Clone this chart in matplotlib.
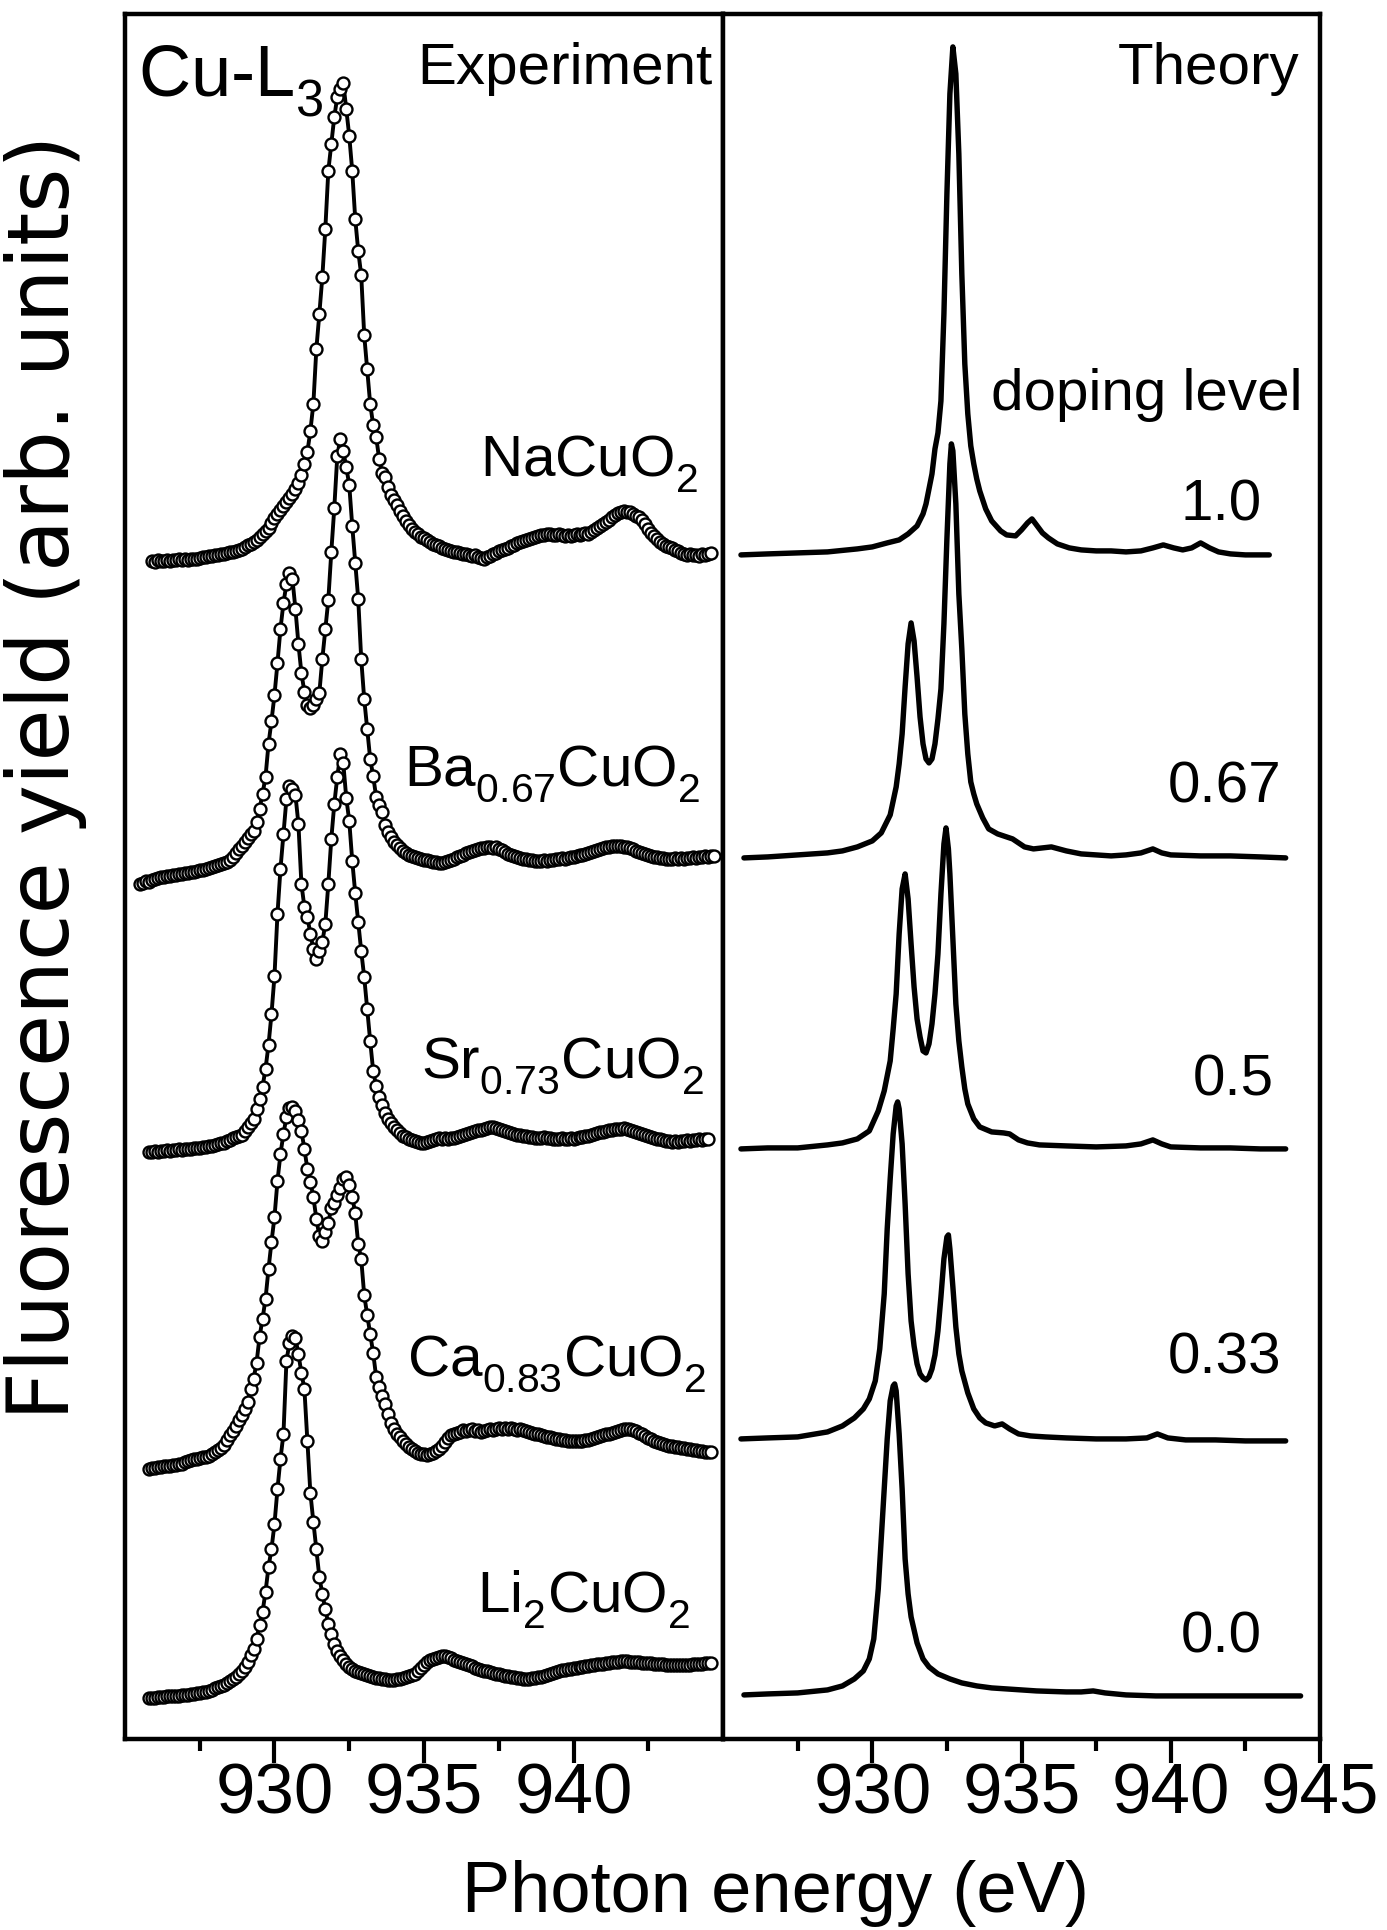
import numpy as np
import matplotlib
matplotlib.use("Agg")
import matplotlib.pyplot as plt

plt.rcParams['font.family'] = ['Liberation Sans', 'DejaVu Sans']
plt.rcParams['mathtext.fontset'] = 'custom'
plt.rcParams['mathtext.rm'] = 'Liberation Sans'
plt.rcParams['mathtext.it'] = 'Liberation Sans:italic'
plt.rcParams['mathtext.bf'] = 'Liberation Sans:bold'

# subindices un poco mas bajos, como en la figura original
try:
    from matplotlib import _mathtext
    _mathtext.FontConstantsBase.sub1 = 0.55
except Exception:
    pass

# ---- Experimento: espectros medidos, paso de 0.1 eV, desplazados verticalmente ----
paso = 0.1

na_e0 = 925.9
na = [
    11.78, 11.77, 11.79, 11.78, 11.78, 11.79, 11.78, 11.79, 11.79, 11.80,
    11.79, 11.80, 11.79, 11.80, 11.80, 11.80, 11.81, 11.82, 11.82, 11.83,
    11.83, 11.84, 11.84, 11.85, 11.85, 11.86, 11.87, 11.87, 11.88, 11.89,
    11.90, 11.92, 11.94, 11.95, 11.97, 11.99, 12.02, 12.05, 12.08, 12.11,
    12.16, 12.21, 12.25, 12.29, 12.33, 12.37, 12.41, 12.45, 12.50, 12.56,
    12.64, 12.75, 12.87, 13.08, 13.35, 13.90, 14.25, 14.62, 15.10, 15.68,
    15.95, 16.22, 16.42, 16.50, 16.56, 16.30, 16.03, 15.68, 15.20, 14.88,
    14.64, 14.04, 13.70, 13.35, 13.14, 13.02, 12.80, 12.66, 12.62, 12.52,
    12.44, 12.39, 12.34, 12.28, 12.23, 12.18, 12.14, 12.10, 12.07, 12.05,
    12.02, 12.01, 11.99, 11.97, 11.95, 11.94, 11.93, 11.91, 11.90, 11.89,
    11.88, 11.87, 11.87, 11.86, 11.85, 11.85, 11.84, 11.83, 11.84, 11.82,
    11.81, 11.80, 11.82, 11.83, 11.85, 11.86, 11.88, 11.89, 11.90, 11.91,
    11.93, 11.94, 11.96, 11.97, 11.98, 11.99, 12.00, 12.01, 12.02, 12.03,
    12.04, 12.04, 12.05, 12.05, 12.04, 12.04, 12.05, 12.04, 12.03, 12.04,
    12.03, 12.04, 12.05, 12.04, 12.05, 12.06, 12.05, 12.07, 12.09, 12.11,
    12.13, 12.15, 12.17, 12.19, 12.22, 12.24, 12.26, 12.27, 12.28, 12.27,
    12.27, 12.25, 12.23, 12.22, 12.19, 12.15, 12.10, 12.06, 12.03, 12.00,
    11.97, 11.95, 11.93, 11.92, 11.91, 11.89, 11.88, 11.86, 11.85, 11.84,
    11.85, 11.84, 11.84, 11.83, 11.85, 11.84, 11.85, 11.86,
]

ba_e0 = 925.5
ba = [
    8.55, 8.56, 8.58, 8.57, 8.59, 8.60, 8.61, 8.62, 8.62, 8.63,
    8.63, 8.64, 8.64, 8.65, 8.65, 8.66, 8.66, 8.67, 8.67, 8.68,
    8.69, 8.69, 8.70, 8.71, 8.72, 8.73, 8.74, 8.75, 8.76, 8.77,
    8.79, 8.82, 8.86, 8.90, 8.93, 8.97, 9.01, 9.05, 9.08, 9.17,
    9.30, 9.45, 9.62, 9.95, 10.18, 10.44, 10.76, 11.10, 11.36, 11.55,
    11.66, 11.60, 11.30, 10.95, 10.66, 10.47, 10.34, 10.31, 10.34, 10.40,
    10.46, 10.80, 11.10, 11.39, 11.87, 12.31, 12.83, 13.00, 12.88, 12.72,
    12.54, 12.13, 11.76, 11.40, 10.80, 10.40, 10.10, 9.80, 9.63, 9.42,
    9.34, 9.27, 9.14, 9.07, 9.02, 8.97, 8.94, 8.91, 8.88, 8.86,
    8.84, 8.83, 8.82, 8.81, 8.80, 8.79, 8.79, 8.78, 8.77, 8.77,
    8.76, 8.76, 8.77, 8.78, 8.79, 8.80, 8.82, 8.83, 8.84, 8.86,
    8.87, 8.88, 8.89, 8.90, 8.91, 8.91, 8.92, 8.92, 8.91, 8.92,
    8.90, 8.89, 8.87, 8.85, 8.84, 8.83, 8.82, 8.81, 8.80, 8.80,
    8.79, 8.79, 8.78, 8.78, 8.78, 8.79, 8.78, 8.79, 8.79, 8.80,
    8.80, 8.81, 8.80, 8.81, 8.82, 8.82, 8.83, 8.84, 8.84, 8.85,
    8.86, 8.87, 8.88, 8.89, 8.90, 8.91, 8.92, 8.92, 8.93, 8.93,
    8.93, 8.93, 8.92, 8.92, 8.91, 8.90, 8.88, 8.87, 8.86, 8.85,
    8.84, 8.83, 8.82, 8.82, 8.81, 8.81, 8.80, 8.80, 8.80, 8.81,
    8.80, 8.81, 8.80, 8.81, 8.81, 8.82, 8.81, 8.82, 8.82, 8.83,
    8.82, 8.83, 8.83,
]

sr_e0 = 925.8
sr = [
    5.87, 5.87, 5.88, 5.87, 5.88, 5.88, 5.89, 5.88, 5.89, 5.89,
    5.90, 5.89, 5.90, 5.90, 5.90, 5.91, 5.91, 5.91, 5.92, 5.92,
    5.93, 5.93, 5.94, 5.95, 5.96, 5.96, 5.98, 5.99, 6.01, 6.02,
    6.03, 6.04, 6.08, 6.12, 6.16, 6.20, 6.30, 6.40, 6.52, 6.70,
    6.94, 7.25, 7.63, 8.25, 8.70, 9.05, 9.40, 9.53, 9.50, 9.44,
    9.15, 8.55, 8.32, 8.22, 8.05, 7.90, 7.80, 7.88, 7.97, 8.15,
    8.55, 9.00, 9.35, 9.62, 9.85, 9.76, 9.41, 9.18, 8.78, 8.46,
    8.17, 7.88, 7.62, 7.30, 6.98, 6.68, 6.53, 6.42, 6.34, 6.26,
    6.20, 6.16, 6.12, 6.09, 6.06, 6.03, 6.02, 6.00, 5.99, 5.98,
    5.97, 5.96, 5.96, 5.97, 5.98, 5.99, 6.00, 6.01, 6.00, 6.01,
    6.00, 6.01, 6.01, 6.02, 6.03, 6.04, 6.05, 6.06, 6.07, 6.08,
    6.09, 6.09, 6.10, 6.11, 6.12, 6.12, 6.11, 6.10, 6.09, 6.08,
    6.07, 6.06, 6.05, 6.04, 6.04, 6.03, 6.03, 6.02, 6.02, 6.01,
    6.01, 6.01, 6.02, 6.01, 6.01, 6.00, 6.00, 6.00, 6.01, 6.00,
    6.00, 6.01, 6.00, 6.01, 6.02, 6.02, 6.03, 6.03, 6.04, 6.05,
    6.06, 6.07, 6.07, 6.08, 6.09, 6.09, 6.10, 6.10, 6.10, 6.11,
    6.10, 6.09, 6.08, 6.07, 6.06, 6.05, 6.04, 6.03, 6.02, 6.01,
    6.00, 6.00, 5.99, 5.98, 5.98, 5.97, 5.98, 5.97, 5.98, 5.98,
    5.99, 5.98, 5.99, 5.99, 6.00, 5.99, 6.00, 6.00,
]

ca_e0 = 925.8
ca = [
    2.70, 2.71, 2.71, 2.72, 2.72, 2.73, 2.73, 2.73, 2.74, 2.74,
    2.75, 2.75, 2.77, 2.78, 2.79, 2.80, 2.80, 2.81, 2.82, 2.82,
    2.83, 2.85, 2.87, 2.89, 2.91, 2.94, 2.99, 3.04, 3.08, 3.13,
    3.19, 3.24, 3.30, 3.37, 3.50, 3.60, 3.76, 4.02, 4.20, 4.40,
    4.70, 4.97, 5.22, 5.58, 5.85, 6.05, 6.22, 6.31, 6.32, 6.28,
    6.19, 6.08, 5.90, 5.70, 5.57, 5.42, 5.20, 5.03, 4.98, 5.07,
    5.16, 5.31, 5.36, 5.44, 5.51, 5.60, 5.62, 5.54, 5.42, 5.26,
    4.95, 4.80, 4.44, 4.24, 4.05, 3.86, 3.62, 3.52, 3.43, 3.35,
    3.25, 3.16, 3.10, 3.05, 3.02, 2.98, 2.95, 2.92, 2.90, 2.88,
    2.86, 2.85, 2.85, 2.84, 2.85, 2.86, 2.88, 2.90, 2.93, 2.97,
    3.01, 3.04, 3.05, 3.06, 3.07, 3.09, 3.08, 3.09, 3.10, 3.08,
    3.09, 3.07, 3.08, 3.09, 3.10, 3.09, 3.10, 3.11, 3.10, 3.11,
    3.10, 3.11, 3.10, 3.09, 3.10, 3.09, 3.08, 3.07, 3.06, 3.05,
    3.05, 3.04, 3.03, 3.02, 3.02, 3.01, 3.00, 3.00, 2.99, 2.99,
    2.98, 2.98, 2.98, 2.98, 2.98, 2.98, 2.99, 2.99, 3.00, 3.01,
    3.02, 3.03, 3.04, 3.05, 3.05, 3.06, 3.07, 3.08, 3.09, 3.10,
    3.10, 3.10, 3.09, 3.08, 3.06, 3.05, 3.03, 3.01, 3.00, 2.98,
    2.97, 2.96, 2.95, 2.94, 2.93, 2.93, 2.92, 2.92, 2.91, 2.91,
    2.90, 2.90, 2.89, 2.89, 2.88, 2.88, 2.87, 2.87, 2.87,
]

li_e0 = 925.8
li = [
    0.41, 0.41, 0.41, 0.42, 0.42, 0.42, 0.43, 0.43, 0.43, 0.43,
    0.43, 0.44, 0.44, 0.44, 0.45, 0.45, 0.46, 0.46, 0.47, 0.47,
    0.48, 0.49, 0.51, 0.52, 0.53, 0.54, 0.56, 0.58, 0.60, 0.62,
    0.65, 0.68, 0.72, 0.77, 0.84, 0.90, 1.00, 1.14, 1.27, 1.47,
    1.72, 1.90, 2.15, 2.50, 2.80, 3.05, 3.78, 3.96, 4.03, 4.01,
    3.85, 3.66, 3.50, 2.98, 2.46, 2.17, 1.90, 1.62, 1.45, 1.30,
    1.15, 1.05, 0.95, 0.88, 0.83, 0.79, 0.75, 0.72, 0.70, 0.68,
    0.67, 0.66, 0.65, 0.64, 0.63, 0.62, 0.61, 0.61, 0.60, 0.60,
    0.59, 0.59, 0.59, 0.60, 0.60, 0.61, 0.62, 0.63, 0.64, 0.65,
    0.68, 0.71, 0.74, 0.77, 0.79, 0.80, 0.81, 0.82, 0.83, 0.83,
    0.82, 0.81, 0.79, 0.78, 0.77, 0.76, 0.75, 0.74, 0.73, 0.71,
    0.70, 0.69, 0.68, 0.68, 0.67, 0.66, 0.65, 0.65, 0.64, 0.63,
    0.63, 0.62, 0.62, 0.61, 0.61, 0.60, 0.60, 0.60, 0.61, 0.61,
    0.62, 0.62, 0.63, 0.64, 0.65, 0.66, 0.67, 0.68, 0.69, 0.69,
    0.70, 0.70, 0.71, 0.71, 0.72, 0.72, 0.73, 0.73, 0.74, 0.74,
    0.75, 0.75, 0.75, 0.76, 0.76, 0.77, 0.77, 0.77, 0.78, 0.78,
    0.78, 0.77, 0.77, 0.77, 0.77, 0.76, 0.76, 0.76, 0.76, 0.75,
    0.75, 0.75, 0.75, 0.74, 0.74, 0.74, 0.74, 0.74, 0.74, 0.74,
    0.74, 0.74, 0.75, 0.75, 0.75, 0.75, 0.76, 0.76, 0.76,
]

muestras = [r'NaCuO$_2$', r'Ba$_{0.67}$CuO$_2$', r'Sr$_{0.73}$CuO$_2$',
            r'Ca$_{0.83}$CuO$_2$', r'Li$_2$CuO$_2$']

# ---- Teoria: curvas calculadas ----
t10_e = [925.6, 926.5, 927.5, 928.5, 929.5, 930.0, 930.5, 930.9, 931.2, 931.5,
         931.7, 931.8, 931.9, 932.0, 932.1, 932.2, 932.3, 932.4, 932.5, 932.6,
         932.7, 932.8, 932.9, 933.0, 933.1, 933.2, 933.3, 933.4, 933.5, 933.6,
         933.8, 934.0, 934.3, 934.5, 934.8, 935.0, 935.2, 935.35, 935.5, 935.7,
         935.9, 936.2, 936.6, 937.0, 937.5, 938.0, 938.5, 939.0, 939.4, 939.75,
         940.1, 940.4, 940.7, 941.0, 941.3, 941.6, 942.0, 942.5, 943.0, 943.3]
t10_y = [11.84, 11.85, 11.86, 11.87, 11.90, 11.92, 11.96, 11.99, 12.05, 12.13,
         12.25, 12.35, 12.50, 12.65, 12.90, 13.06, 13.38, 14.25, 15.45, 16.45,
         16.92, 16.65, 15.85, 14.65, 13.75, 13.25, 12.93, 12.75, 12.60, 12.48,
         12.30, 12.18, 12.08, 12.04, 12.03, 12.09, 12.16, 12.20, 12.14, 12.06,
         12.01, 11.95, 11.91, 11.89, 11.88, 11.88, 11.87, 11.88, 11.91, 11.94,
         11.91, 11.89, 11.91, 11.96, 11.91, 11.87, 11.85, 11.84, 11.84, 11.84]

t067_e = [925.7, 926.5, 927.5, 928.5, 929.0, 929.5, 930.0, 930.3, 930.6, 930.8,
          930.9, 931.0, 931.1, 931.2, 931.3, 931.4, 931.5, 931.6, 931.7, 931.8,
          931.9, 932.0, 932.1, 932.2, 932.3, 932.4, 932.5, 932.6, 932.65, 932.7,
          932.8, 932.9, 933.0, 933.1, 933.2, 933.3, 933.4, 933.5, 933.7, 933.9,
          934.2, 934.5, 934.7, 934.9, 935.1, 935.4, 935.7, 936.0, 936.5, 937.0,
          937.5, 938.0, 938.5, 939.0, 939.4, 939.7, 940.0, 941.0, 942.0, 943.0,
          943.85]
t067_y = [8.81, 8.82, 8.84, 8.86, 8.88, 8.92, 8.98, 9.06, 9.24, 9.52,
          9.75, 10.05, 10.52, 10.95, 11.16, 10.98, 10.62, 10.22, 9.95, 9.80,
          9.76, 9.80, 9.95, 10.20, 10.50, 11.15, 12.00, 12.75, 12.95, 12.88,
          12.35, 11.45, 10.90, 10.25, 9.85, 9.57, 9.45, 9.35, 9.21, 9.10,
          9.05, 9.02, 9.00, 8.96, 8.92, 8.90, 8.91, 8.92, 8.88, 8.85,
          8.84, 8.83, 8.84, 8.86, 8.90, 8.86, 8.84, 8.83, 8.83, 8.82,
          8.81]

t05_e = [925.6, 926.5, 927.5, 928.5, 929.0, 929.5, 929.9, 930.2, 930.4, 930.6,
         930.7, 930.8, 930.9, 931.0, 931.1, 931.2, 931.3, 931.4, 931.5, 931.6,
         931.7, 931.8, 931.9, 932.0, 932.1, 932.2, 932.3, 932.4, 932.47, 932.55,
         932.6, 932.7, 932.8, 932.9, 933.0, 933.1, 933.2, 933.4, 933.6, 934.0,
         934.4, 934.6, 934.9, 935.2, 935.6, 936.5, 937.5, 938.5, 939.0, 939.4,
         939.7, 940.0, 941.0, 942.0, 943.0, 943.85]
t05_y = [5.90, 5.91, 5.91, 5.94, 5.96, 6.00, 6.08, 6.28, 6.48, 6.78,
         7.10, 7.45, 8.05, 8.50, 8.65, 8.40, 7.95, 7.52, 7.20, 7.02,
         6.88, 6.86, 6.95, 7.15, 7.45, 7.85, 8.45, 8.95, 9.11, 8.90,
         8.65, 8.00, 7.35, 6.98, 6.72, 6.50, 6.35, 6.20, 6.12, 6.07,
         6.06, 6.05, 5.99, 5.96, 5.94, 5.93, 5.92, 5.93, 5.95, 5.99,
         5.95, 5.92, 5.91, 5.91, 5.90, 5.90]

t033_e = [925.6, 926.5, 927.5, 928.5, 929.0, 929.4, 929.7, 929.9, 930.1, 930.25,
          930.4, 930.5, 930.6, 930.7, 930.8, 930.85, 930.9, 931.0, 931.1, 931.2,
          931.3, 931.4, 931.5, 931.6, 931.7, 931.8, 931.9, 932.0, 932.1, 932.2,
          932.3, 932.4, 932.5, 932.55, 932.6, 932.7, 932.8, 932.9, 933.0, 933.2,
          933.4, 933.6, 933.8, 934.1, 934.35, 934.6, 934.9, 935.3, 935.8, 936.5,
          937.5, 938.5, 939.2, 939.55, 939.9, 940.5, 941.5, 942.5, 943.85]
t033_y = [3.00, 3.01, 3.02, 3.07, 3.13, 3.21, 3.30, 3.40, 3.58, 3.90,
          4.45, 5.10, 5.60, 6.05, 6.33, 6.37, 6.30, 5.95, 5.35, 4.65,
          4.18, 3.93, 3.75, 3.65, 3.61, 3.59, 3.62, 3.70, 3.84, 4.08,
          4.42, 4.80, 5.02, 5.04, 4.90, 4.52, 4.12, 3.85, 3.68, 3.46,
          3.30, 3.21, 3.16, 3.13, 3.15, 3.10, 3.05, 3.03, 3.02, 3.01,
          3.00, 3.00, 3.01, 3.05, 3.01, 2.99, 2.99, 2.98, 2.98]

t00_e = [925.7, 926.5, 927.5, 928.5, 929.0, 929.4, 929.7, 929.9, 930.05, 930.2,
         930.3, 930.4, 930.5, 930.6, 930.7, 930.75, 930.8, 930.9, 931.0, 931.1,
         931.2, 931.3, 931.5, 931.7, 931.9, 932.2, 932.6, 933.0, 933.5, 934.0,
         934.5, 935.5, 936.5, 937.0, 937.4, 937.8, 938.5, 939.5, 941.0, 942.5,
         944.35]
t00_y = [0.44, 0.45, 0.46, 0.49, 0.53, 0.60, 0.68, 0.80, 1.00, 1.50,
         2.00, 2.50, 3.00, 3.38, 3.53, 3.55, 3.48, 3.05, 2.50, 1.80,
         1.45, 1.22, 0.96, 0.80, 0.72, 0.65, 0.60, 0.56, 0.53, 0.51,
         0.50, 0.48, 0.47, 0.47, 0.48, 0.46, 0.44, 0.43, 0.43, 0.43,
         0.43]

dopaje = ['1.0', '0.67', '0.5', '0.33', '0.0']


fig = plt.figure(figsize=(13.87, 19.30), dpi=100)
ax1 = fig.add_axes([0.0901, 0.0990, 0.4312, 0.8938])
ax2 = fig.add_axes([0.5213, 0.0990, 0.4304, 0.8938])

exp_series = [(na_e0, na), (ba_e0, ba), (sr_e0, sr), (ca_e0, ca), (li_e0, li)]
for e0, vals in exp_series:
    e = e0 + paso * np.arange(len(vals))
    ax1.plot(e, vals, '-o', color='black', lw=2.8, ms=8.6,
             mfc='white', mec='black', mew=1.7)

teo_series = [(t10_e, t10_y), (t067_e, t067_y), (t05_e, t05_y),
              (t033_e, t033_y), (t00_e, t00_y)]
for e, vals in teo_series:
    ax2.plot(e, vals, '-', color='black', lw=3.9,
             solid_capstyle='round', solid_joinstyle='round')

for ax in (ax1, ax2):
    ax.set_xlim(925, 945)
    ax.set_ylim(0, 17.25)
    ax.set_yticks([])
    ax.set_xticks([927.5, 932.5, 937.5, 942.5], minor=True)
    ax.tick_params(axis='x', which='major', direction='out', length=17,
                   width=3.0, labelsize=51, pad=0)
    ax.tick_params(axis='x', which='minor', direction='out', length=8.5,
                   width=3.0)
    for s in ax.spines.values():
        s.set_linewidth(3.2)
ax1.set_xticks([930, 935, 940])
ax2.set_xticks([930, 935, 940, 945])

# etiquetas
t1 = ax1.get_yaxis_transform()
t2 = ax2.get_yaxis_transform()
ax1.text(0.022, 16.42, r'Cu-L$_3$', transform=t1, fontsize=52,
         ha='left', va='baseline')
ax1.text(0.982, 16.55, 'Experiment', transform=t1, fontsize=42,
         ha='right', va='baseline')
pos_exp = [(0.958, 12.62), (0.962, 9.53), (0.968, 6.61), (0.972, 3.63), (0.945, 1.26)]
for nombre, (xp, yp) in zip(muestras, pos_exp):
    ax1.text(xp, yp, nombre, transform=t1, fontsize=42, ha='right', va='baseline')

ax2.text(0.966, 16.55, 'Theory', transform=t2, fontsize=42,
         ha='right', va='baseline')
ax2.text(0.971, 13.29, 'doping level', transform=t2, fontsize=42,
         ha='right', va='baseline')
pos_teo = [(0.903, 12.18), (0.935, 9.36), (0.922, 6.43), (0.935, 3.65), (0.903, 0.86)]
for d, (xp, yp) in zip(dopaje, pos_teo):
    ax2.text(xp, yp, d, transform=t2, fontsize=42, ha='right', va='baseline')

fig.text(0.559, 0.0093, 'Photon energy (eV)', fontsize=52,
         ha='center', va='baseline')
fig.text(0.033, 0.597, 'Fluorescence yield (arb. units)', fontsize=61,
         family=['DejaVu Sans'], rotation=90, ha='center', va='center')

fig.savefig('out.png', dpi=100)
